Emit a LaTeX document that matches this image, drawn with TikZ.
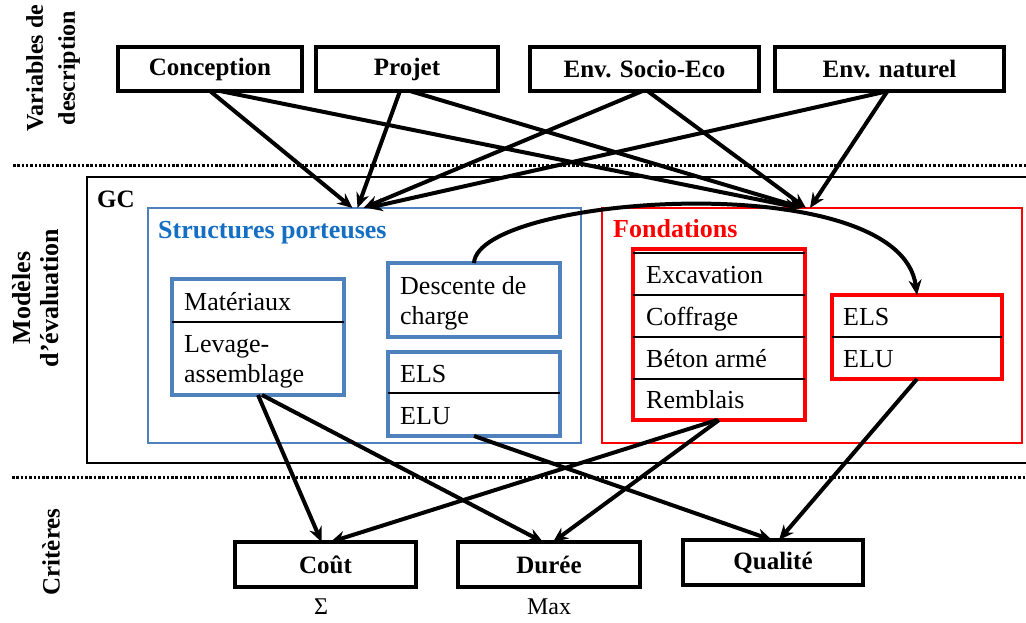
\documentclass[tikz,border=0pt]{standalone}
\usepackage{fontspec}
\setmainfont{Liberation Serif}
\usetikzlibrary{arrows.meta}
\definecolor{boxblue}{RGB}{79,129,189}
\definecolor{txtblue}{RGB}{20,110,195}
\definecolor{fred}{RGB}{255,0,0}
\tikzset{
  topbox/.style={draw=black, line width=3.8pt, minimum height=44pt, inner sep=0pt, outer sep=0pt, font=\bfseries\fontsize{25}{28}\selectfont},
  critbox/.style={draw=black, line width=3.8pt, minimum height=45pt, inner sep=0pt, outer sep=0pt, font=\bfseries\fontsize{25}{28}\selectfont},
  bluebox/.style={draw=boxblue, line width=3.8pt, inner sep=0pt, outer sep=0pt},
  redbox/.style={draw=fred, line width=4.2pt, inner sep=0pt, outer sep=0pt},
  celltxt/.style={anchor=base west, inner sep=0pt, font=\fontsize{26}{30}\selectfont},
  sidelbl/.style={rotate=90, align=center, inner sep=0pt, font=\bfseries\fontsize{25}{30}\selectfont},
  arr/.style={line width=4pt, -{Stealth[length=15pt,width=13pt]}},
  sep/.style={line width=3pt, dash pattern=on 2.5pt off 1.8pt},
  thin/.style={line width=1.2pt, draw=black}
}
\begin{document}
\begin{tikzpicture}[x=1pt,y=-1pt]
\useasboundingbox (0,0) rectangle (1026,622);
\fill[white] (0,0) rectangle (1026,622);

% separators
\draw[sep] (13,165) -- (1030,165);
\draw[sep] (12,477) -- (1030,477);

% side labels
\node[sidelbl, font=\bfseries\fontsize{24}{32}\selectfont] (lvar) at (53,68) {Variables de\\description};
\node[sidelbl, font=\bfseries\fontsize{26}{28}\selectfont] (lmod) at (36,298) {Modèles\\d’évaluation};
\node[sidelbl] (lcrit) at (51,552) {Critères};

% top boxes
\node[topbox, minimum width=184pt] (conc) at (210,69) {Conception};
\node[topbox, minimum width=182pt] (proj) at (407,69) {Projet};
\node[topbox, minimum width=229pt] (socio) at (644.5,69) {Env. Socio-Eco};
\node[topbox, minimum width=229pt] (nat) at (889.5,69) {Env. naturel};

% GC box
\node[draw=black, line width=2.8pt, minimum width=953pt, minimum height=286pt, inner sep=0pt, outer sep=0pt] (gc) at (563.5,320) {};
\node[anchor=base west, inner sep=0pt, font=\bfseries\fontsize{25}{28}\selectfont] (gct) at (97,207) {GC};

% Structures porteuses
\node[draw=boxblue, line width=2.2pt, minimum width=433pt, minimum height=235pt, inner sep=0pt, outer sep=0pt] (sp) at (364.5,325.5) {};
\node[anchor=base west, inner sep=0pt, text=txtblue, font=\bfseries\fontsize{26}{28}\selectfont] (spt) at (158,238) {Structures porteuses};

\node[bluebox, minimum width=172pt, minimum height=116pt] (mat) at (258,337) {};
\draw[thin] (mat.west |- 0,322) -- (mat.east |- 0,322);
\node[celltxt] (tmat) at (184,310) {Matériaux};
\node[celltxt] (tlev) at (184,352) {Levage-};
\node[celltxt] (tass) at (184,382) {assemblage};

\node[bluebox, minimum width=172pt, minimum height=74pt] (desc) at (474,300) {};
\node[celltxt] (tdesc) at (400,294) {Descente de};
\node[celltxt] (tcharge) at (400,324) {charge};

\node[bluebox, minimum width=172pt, minimum height=84pt] (sels) at (474,394) {};
\draw[thin] (sels.west |- 0,393) -- (sels.east |- 0,393);
\node[celltxt] (tsels) at (400,382) {ELS};
\node[celltxt] (tselu) at (400,424) {ELU};

% Fondations
\node[draw=fred, line width=2.8pt, minimum width=420pt, minimum height=235pt, inner sep=0pt, outer sep=0pt] (fd) at (812,325.5) {};
\node[anchor=base west, inner sep=0pt, text=fred, font=\bfseries\fontsize{26}{28}\selectfont] (fdt) at (613,237) {Fondations};

\node[redbox, minimum width=172pt, minimum height=171pt] (lst) at (719,334.5) {};
\foreach \yy in {253,295,337,379} \draw[thin] (lst.west |- 0,\yy) -- (lst.east |- 0,\yy);
\node[celltxt] (texc) at (646,283) {Excavation};
\node[celltxt] (tcof) at (646,325) {Coffrage};
\node[celltxt] (tbet) at (646,367) {Béton armé};
\node[celltxt] (trem) at (646,408) {Remblais};

\node[redbox, minimum width=170pt, minimum height=84pt] (rels) at (917,337) {};
\draw[thin] (rels.west |- 0,337) -- (rels.east |- 0,337);
\node[celltxt] (trels) at (843,325) {ELS};
\node[celltxt] (trelu) at (843,367) {ELU};

% criteria boxes
\node[critbox, minimum width=181pt] (cout) at (325.5,564.5) {Coût};
\node[critbox, minimum width=182pt] (dur) at (549,564.5) {Durée};
\node[critbox, minimum width=180pt] (qual) at (773,562.5) {Qualité};
\node[inner sep=0pt, font=\fontsize{24}{26}\selectfont] (sig) at (321,607) {Σ};
\node[inner sep=0pt, font=\fontsize{24}{26}\selectfont] (mx) at (549,607) {Max};

% arrows from description variables
\draw[arr] (conc.south) -- ([xshift=-12pt]sp.north);
\draw[arr] ([xshift=10pt]conc.south) -- ([xshift=-12pt]fd.north);
\draw[arr] ([xshift=-7pt]proj.south) -- ([xshift=-7pt]sp.north);
\draw[arr] ([xshift=3pt]proj.south) -- ([xshift=-9pt]fd.north);
\draw[arr] ([xshift=-2pt]socio.south) -- ([xshift=-1pt]sp.north);
\draw[arr] ([xshift=3pt]socio.south) -- ([xshift=-6pt]fd.north);
\draw[arr] ([xshift=-1pt]nat.south) -- ([xshift=3pt]sp.north);
\draw[arr] ([xshift=-2pt]nat.south) -- ([xshift=-2pt]fd.north);

% curve
\draw[arr] (desc.north) .. controls +(4,-68) and +(-17,-130) .. (rels.north);

% arrows to criteria
\draw[arr] (mat.south) -- ([xshift=-4pt]cout.north);
\draw[arr] ([xshift=4pt]mat.south) -- ([xshift=-6pt]dur.north);
\draw[arr] (sels.south) -- ([xshift=-1pt]qual.north);
\draw[arr] ([xshift=-2pt]lst.south) -- ([xshift=5pt]cout.north);
\draw[arr] (lst.south) -- ([xshift=4pt]dur.north);
\draw[arr] (rels.south) -- ([xshift=6pt]qual.north);
\end{tikzpicture}
\end{document}
